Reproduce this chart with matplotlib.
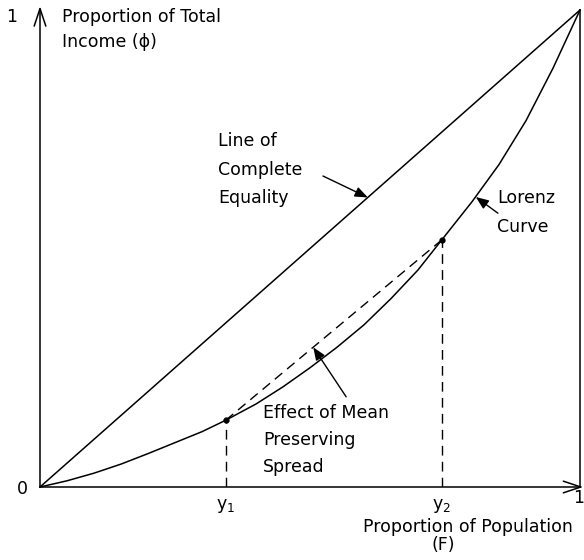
import matplotlib
matplotlib.use('Agg')
import matplotlib.pyplot as plt

# Lorenz curve (population share F, income share phi)
lorenz_x = [0, 0.05, 0.1, 0.15, 0.2, 0.25, 0.3, 0.344, 0.4, 0.45, 0.5, 0.55,
            0.6, 0.65, 0.7, 0.744, 0.8, 0.85, 0.9, 0.95, 1.0]
lorenz_y = [0, 0.013, 0.029, 0.048, 0.070, 0.093, 0.116, 0.140, 0.174, 0.210, 0.250, 0.293,
            0.340, 0.395, 0.455, 0.518, 0.598, 0.676, 0.768, 0.878, 1.0]

# line of complete equality
equal_x = [0, 1]
equal_y = [0, 1]

# the two points joined by the mean preserving spread
spread_x = [0.344, 0.744]
spread_y = [0.140, 0.518]
spread_labels = [r'$\mathregular{y_1}$', r'$\mathregular{y_2}$']

FS = 12.5  # font size used everywhere
TXT = dict(fontsize=FS, family='DejaVu Sans', color='k')


# arrow from a label to a curve
def pointer(ax, tail, tip):
    ax.annotate('', xy=tip, xytext=tail,
                arrowprops=dict(arrowstyle='-|>,head_length=0.55,head_width=0.22',
                                lw=1.0, color='k', mutation_scale=14,
                                shrinkA=0, shrinkB=0))


# axis with an open arrow head
def axis_arrow(ax, start, end):
    ax.annotate('', xy=end, xytext=start, annotation_clip=False,
                arrowprops=dict(arrowstyle='->,head_length=0.9,head_width=0.3',
                                lw=1.1, color='k', mutation_scale=14,
                                shrinkA=0, shrinkB=0))


fig = plt.figure(figsize=(5.84, 5.60), dpi=100)
# axes box spans the unit square of the diagram
ax = fig.add_axes([40 / 584, 73 / 560, 540 / 584, 477 / 560])
ax.set_xlim(0, 1)
ax.set_ylim(0, 1)
ax.axis('off')

# axes and right border
axis_arrow(ax, (0, 0), (0, 1.008))
axis_arrow(ax, (0, 0), (1.006, 0))
ax.plot([1, 1], [0, 1], color='k', lw=1.1, clip_on=False)

# curves
ax.plot(equal_x, equal_y, color='k', lw=1.1, clip_on=False)
ax.plot(lorenz_x, lorenz_y, color='k', lw=1.1, clip_on=False)

# mean preserving spread: chord plus drop lines
ax.plot(spread_x, spread_y, color='k', lw=1.0, linestyle=(0, (7, 4.5)))
for xs, ys, lbl in zip(spread_x, spread_y, spread_labels):
    ax.plot([xs, xs], [0, ys], color='k', lw=1.0, linestyle=(0, (7, 4.5)))
    ax.plot(xs, ys, 'o', color='k', ms=3.5)
    ax.text(xs, -0.04, lbl, ha='center', va='center', clip_on=False, **TXT)

# end labels of the axes
ax.text(-0.033, -0.004, '0', ha='center', va='center', clip_on=False, **TXT)
ax.text(-0.052, 0.985, '1', ha='center', va='center', clip_on=False, **TXT)
ax.text(0.997, -0.024, '1', ha='center', va='center', clip_on=False, **TXT)

# axis titles
ax.text(0.041, 0.985, 'Proportion of Total', ha='left', va='center', clip_on=False, **TXT)
ax.text(0.041, 0.933, 'Income (ϕ)', ha='left', va='center', clip_on=False, **TXT)
ax.text(0.987, -0.084, 'Proportion of Population', ha='right', va='center', clip_on=False, **TXT)
ax.text(0.746, -0.122, '(F)', ha='center', va='center', clip_on=False, **TXT)

# annotations
for i, s in enumerate(['Line of', 'Complete', 'Equality']):
    ax.text(0.330, 0.725 - i * 0.0595, s, ha='left', va='center', **TXT)
pointer(ax, (0.524, 0.652), (0.607, 0.607))

for i, s in enumerate(['Lorenz', 'Curve']):
    ax.text(0.846, 0.606 - i * 0.0605, s, ha='left', va='center', **TXT)
pointer(ax, (0.848, 0.574), (0.807, 0.608))

for i, s in enumerate(['Effect of Mean', 'Preserving', 'Spread']):
    ax.text(0.413, 0.155 - i * 0.0567, s, ha='left', va='center', **TXT)
pointer(ax, (0.567, 0.189), (0.506, 0.293))

fig.savefig('out.png', dpi=100, facecolor='white')
